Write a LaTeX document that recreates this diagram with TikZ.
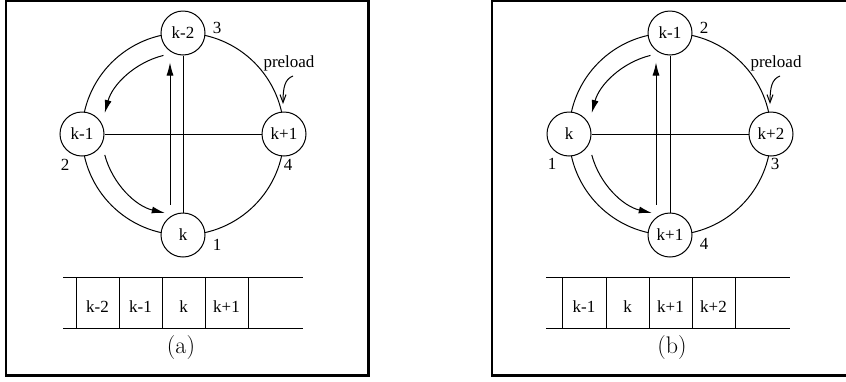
\documentclass[tikz,border=0pt]{standalone}
\usepackage{fontspec}
\newfontfamily\tms{Liberation Serif}
\usetikzlibrary{arrows.meta}
\tikzset{
  thinline/.style={line width=1pt},
  ring/.style={circle, draw, fill=white, minimum size=44pt, inner sep=0pt, line width=1pt, font=\tms\fontsize{17}{19}\selectfont},
  lbl/.style={inner sep=0pt, font=\tms\fontsize{17}{19}\selectfont},
  captext/.style={inner sep=0pt, font=\fontsize{24}{26}\selectfont},
  frame/.style={line width=2.8pt},
  fillarrow/.style={-{Latex[length=13pt,width=7pt]}},
  openarrow/.style={-{Straight Barb[length=8pt,width=6pt,line width=1pt]}},
}
\begin{document}
\begin{tikzpicture}[x=1pt,y=1pt]
\useasboundingbox (0,0) rectangle (846,-381);
\clip (0,0) rectangle (846,-381);
% frames
\draw[frame] (6,-0.5) rectangle (368.5,-375.5);
\draw[frame] (492,-0.5) rectangle (855,-375.5);
% ---------- panel (a) ----------
\begin{scope}[shift={(183,-134)}]
  \draw[thinline] (0,0) circle (101);
  \node[ring] (at) at (0,101) {k-2};
  \node[ring] (al) at (-101,0) {k-1};
  \node[ring] (ar) at (101,0) {k+1};
  \node[ring] (ab) at (0,-101) {k};
  \draw[thinline] (al) -- (ar);
  \draw[thinline] (at) -- (ab);
  \draw[thinline,fillarrow] ([xshift=-13pt,yshift=8pt]ab.north) -- ([xshift=-13pt,yshift=-7pt]at.south);
  \draw[thinline,fillarrow] (104:81) arc[start angle=104, end angle=165, radius=81];
  \draw[thinline,fillarrow] (195:81) arc[start angle=195, end angle=257, radius=81];
  \coordinate (apa) at (110,58);
  \coordinate (apb) at (100,30);
  \draw[thinline,openarrow] (apa) .. controls (102,55) and (100,47) .. (apb);
  \node[lbl] (apre) at (106,71) {preload};
  \node[lbl] (an3) at (34,106) {3};
  \node[lbl] (an2) at (-118,-31) {2};
  \node[lbl] (an4) at (105,-31) {4};
  \node[lbl] (an1) at (34,-111) {1};
  % table
  \draw[thinline] (-120,-143) -- (120,-143);
  \draw[thinline] (-120,-194) -- (120,-194);
  \foreach \xx in {-107,-64,-21,22,65} \draw[thinline] (\xx,-143) -- (\xx,-194);
  \node[lbl] (ac1) at (-85.5,-173) {k-2};
  \node[lbl] (ac2) at (-42.5,-173) {k-1};
  \node[lbl] (ac3) at (0.5,-173) {k};
  \node[lbl] (ac4) at (43.5,-173) {k+1};
  \node[captext] (acap) at (-2,-214) {(a)};
\end{scope}
% ---------- panel (b) ----------
\begin{scope}[shift={(670,-134)}]
  \draw[thinline] (0,0) circle (101);
  \node[ring] (bt) at (0,101) {k-1};
  \node[ring] (bl) at (-101,0) {k};
  \node[ring] (br) at (101,0) {k+2};
  \node[ring] (bb) at (0,-101) {k+1};
  \draw[thinline] (bl) -- (br);
  \draw[thinline] (bt) -- (bb);
  \draw[thinline,fillarrow] ([xshift=-14pt,yshift=8pt]bb.north) -- ([xshift=-14pt,yshift=-7pt]bt.south);
  \draw[thinline,fillarrow] (104:81) arc[start angle=104, end angle=165, radius=81];
  \draw[thinline,fillarrow] (195:81) arc[start angle=195, end angle=257, radius=81];
  \coordinate (bpa) at (110,58);
  \coordinate (bpb) at (100,30);
  \draw[thinline,openarrow] (bpa) .. controls (102,55) and (100,47) .. (bpb);
  \node[lbl] (bpre) at (106,71) {preload};
  \node[lbl] (bn2) at (34,106) {2};
  \node[lbl] (bn1) at (-118,-30) {1};
  \node[lbl] (bn3) at (105,-30) {3};
  \node[lbl] (bn4) at (34,-110) {4};
  % table
  \draw[thinline] (-124,-143) -- (120,-143);
  \draw[thinline] (-124,-194) -- (120,-194);
  \foreach \xx in {-108,-64,-21,22,65} \draw[thinline] (\xx,-143) -- (\xx,-194);
  \node[lbl] (bc1) at (-86,-173) {k-1};
  \node[lbl] (bc2) at (-42.5,-173) {k};
  \node[lbl] (bc3) at (0.5,-173) {k+1};
  \node[lbl] (bc4) at (43.5,-173) {k+2};
  \node[captext] (bcap) at (2,-214) {(b)};
\end{scope}
\end{tikzpicture}
\end{document}
